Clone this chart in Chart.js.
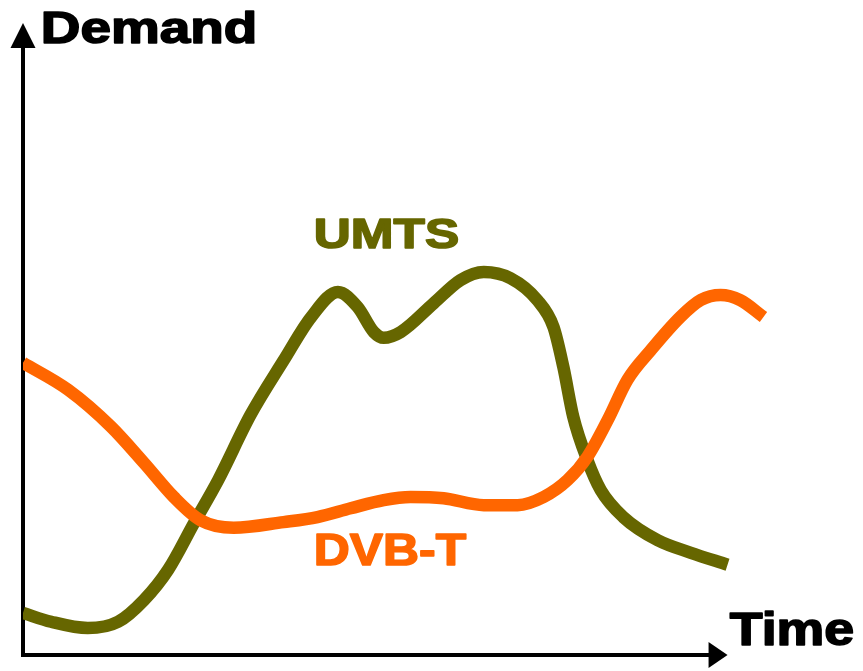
<!DOCTYPE html>
<html>
<head>
<meta charset="utf-8">
<script src="https://cdn.jsdelivr.net/npm/chart.js@4/dist/chart.umd.min.js"></script>
<style>
  html, body { margin: 0; padding: 0; background: #ffffff; }
  #wrap { width: 863px; height: 671px; }
</style>
</head>
<body>
<div id="wrap"><canvas id="c" width="863" height="671"></canvas></div>
<script>
// Time axis positions (0 = start, 100 = end of the time arrow)
const umtsTime = [0, 4, 9.2, 13.5, 17.2, 20.6, 24.3, 27.7, 32.3, 37, 40.9, 44.7, 47.5, 49.8, 51.2, 53.6,
  58.3, 62.1, 65.4, 69.2, 73, 75.3, 76.7, 78.1, 80.1, 82, 85.2, 90.1, 94.8, 100];
const umtsDemand = [6.7, 5.3, 4.3, 5.3, 8.8, 13.6, 21.1, 27.9, 38.3, 47, 53.9, 57.9, 55.5, 51.5, 50.6, 51.5,
  56.1, 59.8, 61.1, 60.1, 56.6, 52.3, 45.9, 38, 31.1, 26.3, 22, 18.3, 16.3, 14.4];

const dvbTime = [0, 6.4, 12.5, 17.2, 21.4, 25.2, 29.9, 37, 41.8, 46.5, 51.2, 55, 59.7, 65.4, 70.2, 73.9,
  77.3, 80.1, 83, 85.8, 89.1, 93.3, 96.2, 99, 101.8, 105.1];
const dvbDemand = [46.6, 42.3, 36.4, 30.6, 25.2, 21.5, 20.3, 21.2, 22, 23.4, 24.7, 25.2, 25, 23.9, 23.9, 25.2,
  27.9, 31.6, 37.5, 43.9, 48.6, 53.9, 56.6, 57.4, 56.6, 53.9];

const seriesNames = ['UMTS', 'DVB-T'];
const axisNames = ['Demand', 'Time'];

const OLIVE = '#666600';
const ORANGE = '#ff6600';

const toPoints = (xs, ys) => xs.map((x, i) => ({ x: x, y: ys[i] }));

// Draws both axes with arrow heads, plus the axis and series captions
const sketchDecor = {
  id: 'sketchDecor',
  beforeDatasetsDraw(chart) {
    const ctx = chart.ctx;
    const xs = chart.scales.x, ys = chart.scales.y;
    const x0 = xs.getPixelForValue(0), y0 = ys.getPixelForValue(0);
    const xEnd = xs.getPixelForValue(100), yEnd = ys.getPixelForValue(100.8);
    ctx.save();
    ctx.strokeStyle = '#000';
    ctx.fillStyle = '#000';
    ctx.lineWidth = 4;
    ctx.lineCap = 'butt';
    ctx.beginPath();
    ctx.moveTo(x0, y0 + 2);
    ctx.lineTo(x0, yEnd + 20);
    ctx.moveTo(x0 - 2, y0);
    ctx.lineTo(xEnd - 15, y0);
    ctx.stroke();
    // vertical arrow head
    ctx.beginPath();
    ctx.moveTo(x0, yEnd);
    ctx.lineTo(x0 - 12.5, yEnd + 25);
    ctx.lineTo(x0 + 12.5, yEnd + 25);
    ctx.closePath();
    ctx.fill();
    // horizontal arrow head
    ctx.beginPath();
    ctx.moveTo(xEnd, y0);
    ctx.lineTo(xEnd - 19, y0 - 13);
    ctx.lineTo(xEnd - 19, y0 + 13);
    ctx.closePath();
    ctx.fill();
    ctx.restore();
  },
  afterDatasetsDraw(chart) {
    const ctx = chart.ctx;
    // bold caption stretched to a given width, with a thin outline for extra weight
    const drawWide = (text, x, baseline, size, width, color) => {
      ctx.save();
      ctx.font = 'bold ' + size + 'px "Liberation Sans", Arial, sans-serif';
      ctx.fillStyle = color;
      ctx.strokeStyle = color;
      ctx.lineWidth = 1.6;
      ctx.lineJoin = 'round';
      ctx.textBaseline = 'alphabetic';
      ctx.textAlign = 'left';
      const w = ctx.measureText(text).width;
      ctx.translate(x + 0.8, baseline - 0.5);
      ctx.scale((width - 1.6) / w, 1);
      ctx.fillText(text, 0, 0);
      ctx.strokeText(text, 0, 0);
      ctx.restore();
    };
    drawWide(axisNames[0], 40, 43, 45, 218, '#000');
    drawWide(axisNames[1], 729, 645, 46, 126, '#000');
    drawWide(seriesNames[0], 313, 248, 42, 147, OLIVE);
    drawWide(seriesNames[1], 313, 565, 45, 154, ORANGE);
  }
};

new Chart(document.getElementById('c'), {
  type: 'line',
  data: {
    datasets: [
      {
        label: seriesNames[1],
        data: toPoints(dvbTime, dvbDemand),
        borderColor: ORANGE,
        borderWidth: 12.5,
        borderCapStyle: 'butt',
        pointRadius: 0,
        cubicInterpolationMode: 'monotone',
        fill: false,
        order: 0
      },
      {
        label: seriesNames[0],
        data: toPoints(umtsTime, umtsDemand),
        borderColor: OLIVE,
        borderWidth: 12.5,
        borderCapStyle: 'butt',
        pointRadius: 0,
        cubicInterpolationMode: 'monotone',
        fill: false,
        order: 1
      }
    ]
  },
  options: {
    responsive: false,
    animation: false,
    devicePixelRatio: 1,
    layout: { padding: { left: 23, right: 65, top: 28, bottom: 16 } },
    scales: {
      x: { type: 'linear', min: 0, max: 110, display: false },
      y: { type: 'linear', min: 0, max: 100, display: false }
    },
    plugins: {
      legend: { display: false },
      title: { display: false },
      tooltip: { enabled: false }
    }
  },
  plugins: [sketchDecor]
});
</script>
</body>
</html>
